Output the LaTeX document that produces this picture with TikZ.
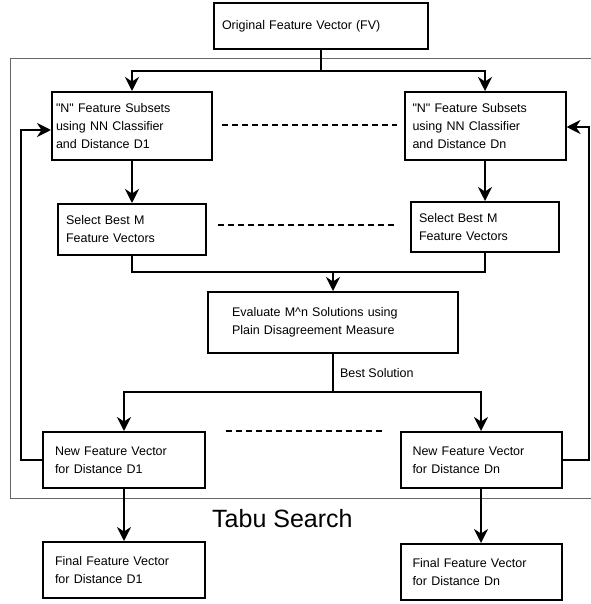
\documentclass[tikz,border=0pt]{standalone}
\usepackage{fontspec}
\setmainfont{Liberation Sans}
\usetikzlibrary{arrows.meta,calc}
\begin{document}
\begin{tikzpicture}[x=1pt,y=-1pt,
  box/.style={draw, line width=2pt, inner ysep=0pt, align=left,
    font=\fontsize{12.5}{18}\selectfont, anchor=center},
  arr/.style={line width=2pt, -{Stealth[length=14pt,width=14pt,inset=4.5pt]}},
  ln/.style={line width=2pt},
  dots/.style={line width=2pt, dash pattern=on 6pt off 4pt},
  frame/.style={draw=black!60, line width=1pt},
  lbl/.style={font=\fontsize{12.5}{18}\selectfont, inner sep=0pt}
]
\useasboundingbox (0,0) rectangle (590,604);
\draw[frame] (10.5,59) rectangle (592,498);

\node[box, minimum width=214pt, minimum height=46pt, inner xsep=8pt, text width=198pt] (FV) at (321,26) {Original Feature Vector (FV)};

\node[box, minimum width=160pt, minimum height=68pt, inner xsep=4pt, text width=152pt] (N1) at (132,126) {\textquotedbl N\textquotedbl{} Feature Subsets\\using NN Classifier\\and Distance D1};
\node[box, minimum width=161pt, minimum height=68pt, inner xsep=8pt, text width=145pt] (Nn) at (485,126) {\textquotedbl N\textquotedbl{} Feature Subsets\\using NN Classifier\\and Distance Dn};

\node[box, minimum width=148pt, minimum height=51pt, inner xsep=8pt, text width=132pt] (S1) at (132,229.5) {Select Best M\\Feature Vectors};
\node[box, minimum width=148pt, minimum height=50pt, inner xsep=8pt, text width=132pt] (Sn) at (485,227) {Select Best M\\Feature Vectors};

\node[box, minimum width=250pt, minimum height=61pt, inner xsep=24pt, text width=202pt] (E) at (333,322.5) {Evaluate M\textasciicircum n Solutions using\\Plain Disagreement Measure};

\node[box, minimum width=162pt, minimum height=56pt, inner xsep=12pt, text width=138pt] (NF1) at (124,460) {New Feature Vector\\for Distance D1};
\node[box, minimum width=161pt, minimum height=56pt, inner xsep=12pt, text width=137pt] (NFn) at (481,460) {New Feature Vector\\for Distance Dn};

\node[box, minimum width=162pt, minimum height=56pt, inner xsep=12pt, text width=138pt] (F1) at (124,570) {Final Feature Vector\\for Distance D1};
\node[box, minimum width=161pt, minimum height=56pt, inner xsep=12pt, text width=137pt] (Fn) at (481,572) {Final Feature Vector\\for Distance Dn};

\node[anchor=west, font=\fontsize{25}{30}\selectfont, inner sep=0pt] (tabu) at (212,519) {Tabu Search};

% top split
\draw[ln] (FV.south) -- ++(0,21) coordinate (t);
\draw[arr] (t) -| (N1.north);
\draw[arr] (t) -| (Nn.north);

\draw[arr] (N1.south) -- (S1.north);
\draw[arr] (Nn.south) -- (Sn.north);

% merge
\coordinate (m) at (333,272);
\draw[ln] (S1.south) |- (m);
\draw[ln] (Sn.south) |- (m);
\draw[arr] (m) -- (E.north);

% best solution split
\coordinate (b) at (333,392);
\draw[ln] (E.south) -- node[lbl, right, xshift=6pt] (bs) {Best Solution} (b);
\draw[arr] (b) -| (NF1.north);
\draw[arr] (b) -| (NFn.north);

% feedback loops
\draw[arr] (NF1.west) -- ++(-21,0) |- ([yshift=-4pt]N1.west);
\draw[arr] (NFn.east) -- ++(26,0) |- ([yshift=-1pt]Nn.east);

% outputs
\draw[arr] (NF1.south) -- (F1.north);
\draw[arr] (NFn.south) -- (Fn.north);

% dotted separators
\coordinate (d1a) at (222,125); \coordinate (d1b) at (397,125);
\coordinate (d2a) at (218,225); \coordinate (d2b) at (395,225);
\coordinate (d3a) at (226,431); \coordinate (d3b) at (384,431);
\draw[dots] (d1a) -- (d1b);
\draw[dots] (d2a) -- (d2b);
\draw[dots] (d3a) -- (d3b);
\end{tikzpicture}
\end{document}
